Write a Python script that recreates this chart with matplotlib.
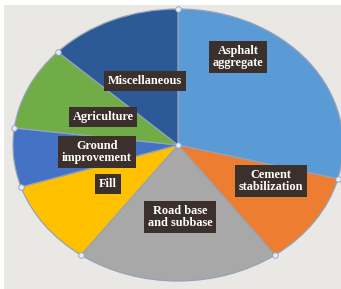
import numpy as np
import matplotlib.pyplot as plt
from matplotlib.patches import Rectangle

categories = ["Asphalt\naggregate", "Cement\nstabilization", "Road base\nand subbase",
              "Fill", "Ground\nimprovement", "Agriculture", "Miscellaneous"]
values = [29, 11, 20, 10, 7, 10, 13]
colors = ["#5b9bd5", "#ed7d31", "#a8a8a8", "#ffc000", "#4472c4", "#70ad47", "#2b5a96"]
# label box centers in pixel coordinates (layout only)
label_px = [(238, 57), (271, 181), (180, 217), (108, 184), (97, 152), (103, 117), (145, 81)]

W, H = 341, 289
fig = plt.figure(figsize=(W / 100, H / 100), dpi=100)
fig.patch.set_facecolor("white")

ax = fig.add_axes([0, 0, 1, 1])
ax.set_facecolor("none")
ax.add_patch(Rectangle((4 / W, 0), 1, 1 - 5 / H, transform=fig.transFigure,
                       facecolor="#eae8e5", edgecolor="none", zorder=-5))
cx, cy, rx, ry = 178, 145, 165, 136
wedges, _ = ax.pie(values, colors=colors, startangle=90, counterclock=False,
                   wedgeprops=dict(edgecolor="#95a3b6", linewidth=0.9))
ax.set_aspect("auto")
ax.set_xlim(-cx / rx, (W - cx) / rx)
ax.set_ylim(-(H - cy) / ry, cy / ry)
ax.axis("off")

# selection handles at slice boundaries
frac = np.cumsum([0] + values) / sum(values)
ang = np.deg2rad(90 - 360 * frac[:-1])
ax.scatter(np.cos(ang), np.sin(ang), s=16, color="#e3ecf7", edgecolors="#8aa0c0",
           linewidths=0.6, zorder=5, clip_on=False)
ax.scatter([0], [0], s=16, color="#e3ecf7", edgecolors="#8aa0c0", linewidths=0.6, zorder=5)

for lab, (px, py) in zip(categories, label_px):
    fig.text(px / W, 1 - py / H, lab, ha="center", va="center", color="white",
             fontsize=8.8, fontweight="bold", family="Liberation Serif",
             linespacing=1.0,
             bbox=dict(boxstyle="square,pad=0.3", facecolor="#3b302b", edgecolor="none"))

fig.savefig("out.png", dpi=100)
